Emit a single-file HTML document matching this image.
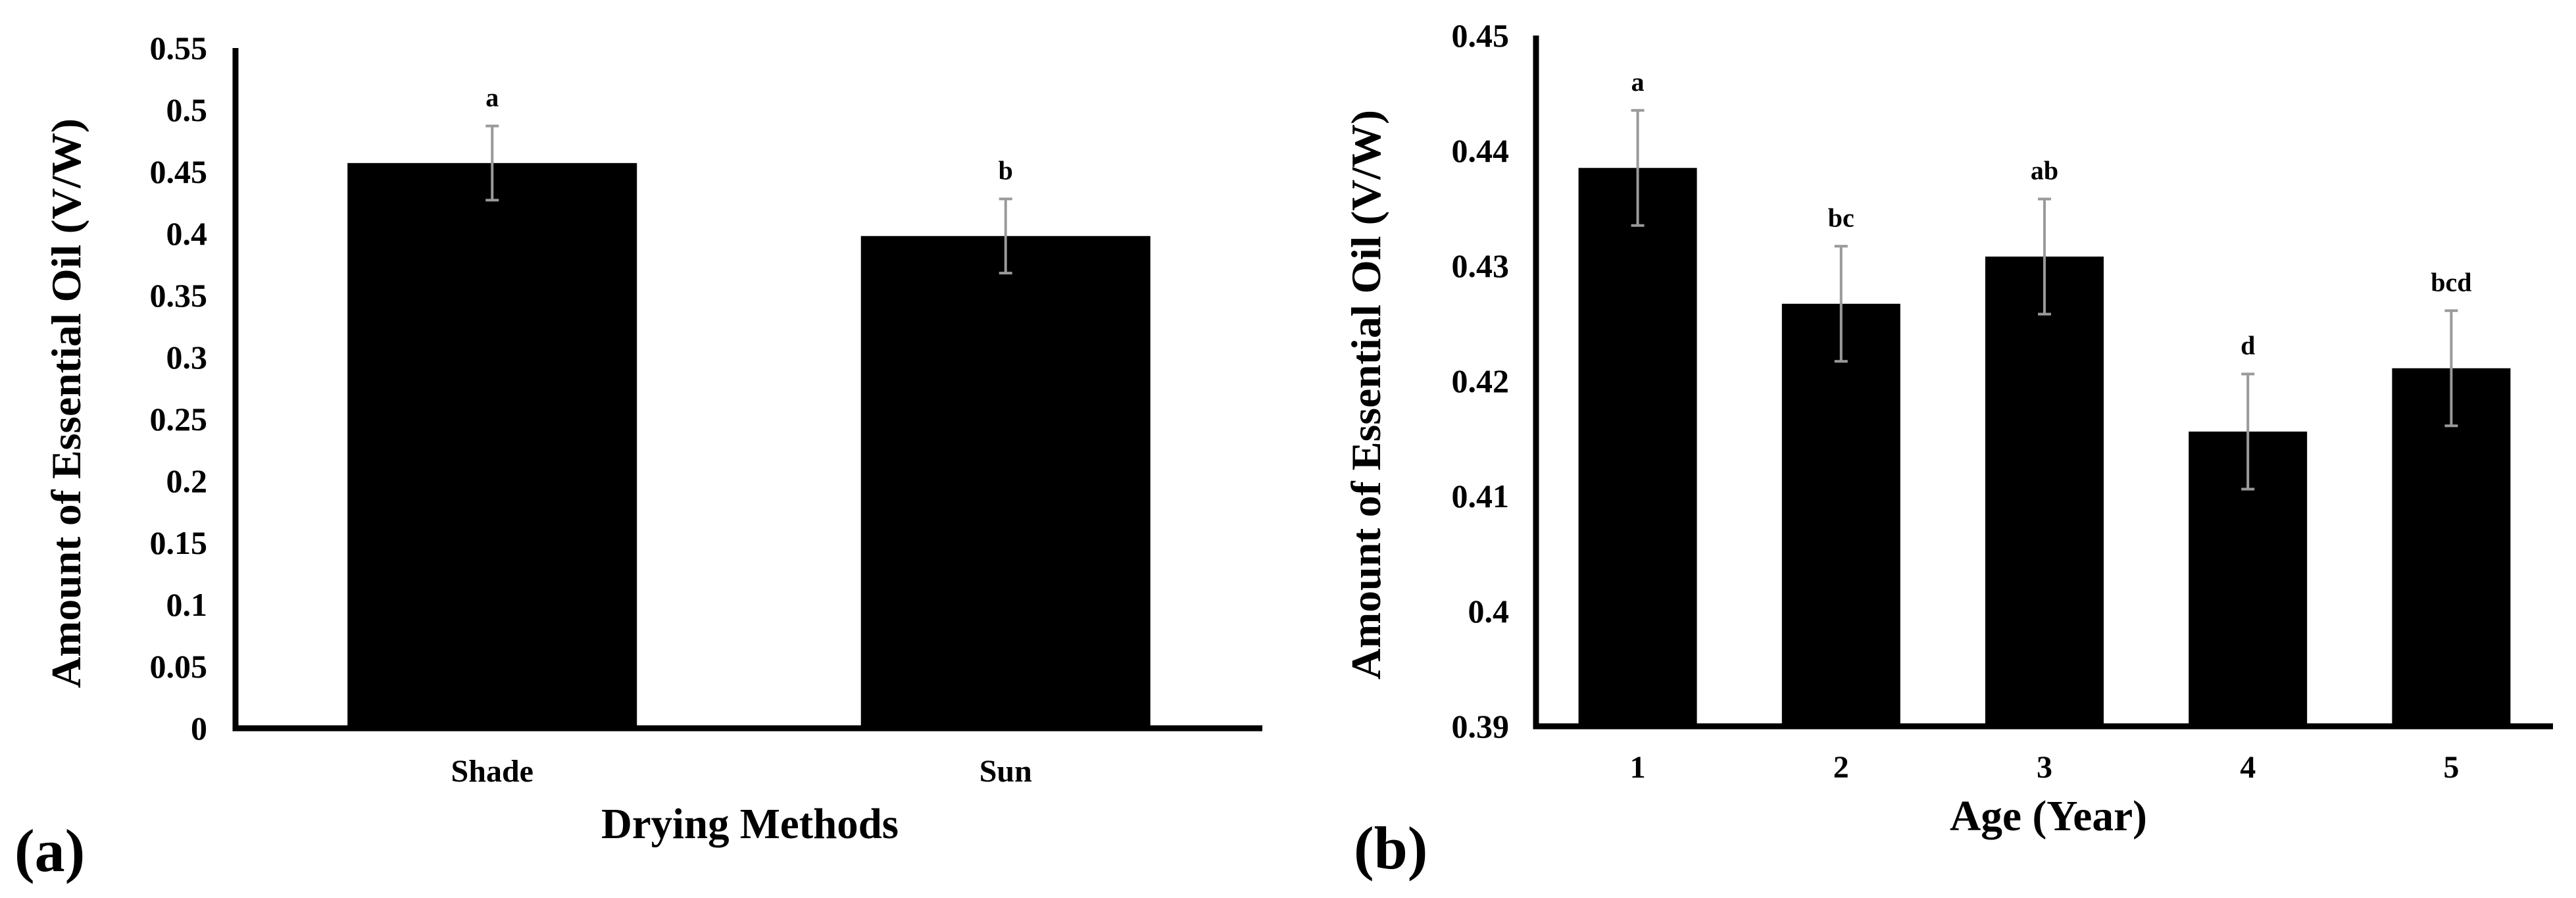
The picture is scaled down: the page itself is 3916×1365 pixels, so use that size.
<!DOCTYPE html>
<html><head><meta charset="utf-8"><style>
html,body{margin:0;padding:0;background:#fff;}
svg{display:block;font-family:"Liberation Serif",serif;font-weight:bold;}
</style></head><body>
<svg id="fig" width="3916" height="1365" viewBox="0 0 3916 1365" xmlns="http://www.w3.org/2000/svg">
<g id="chartA"></g>
<g id="chartB"></g>
<text x="22" y="1324" font-size="92">(a)</text>
<text x="2058" y="1320" font-size="92">(b)</text>
<text x="1140" y="1274" font-size="66" text-anchor="middle" textLength="452" lengthAdjust="spacingAndGlyphs">Drying Methods</text>
<text x="3114" y="1262" font-size="66" text-anchor="middle" textLength="300" lengthAdjust="spacingAndGlyphs">Age (Year)</text>
<text transform="translate(122,613) rotate(-90)" font-size="64" text-anchor="middle" textLength="866" lengthAdjust="spacingAndGlyphs">Amount of Essential Oil (V/W)</text>
<text transform="translate(2098,600) rotate(-90)" font-size="64" text-anchor="middle" textLength="866" lengthAdjust="spacingAndGlyphs">Amount of Essential Oil (V/W)</text>
</svg>
<script>
const NS="http://www.w3.org/2000/svg";
// Chart A data
const catsA=["Shade","Sun"];
const valsA=[0.457,0.398];
const errA=[0.03,0.03];
const lettersA=["a","b"];
const ticksA=["0","0.05","0.1","0.15","0.2","0.25","0.3","0.35","0.4","0.45","0.5","0.55"];
// Chart B data
const catsB=["1","2","3","4","5"];
const valsB=[0.4385,0.4267,0.4308,0.4156,0.4211];
const errB=[0.005,0.005,0.005,0.005,0.005];
const lettersB=["a","bc","ab","d","bcd"];
const ticksB=["0.39","0.4","0.41","0.42","0.43","0.44","0.45"];

function mk(parent,tag,attrs){const e=document.createElementNS(NS,tag);for(const k in attrs)e.setAttribute(k,attrs[k]);parent.appendChild(e);return e;}

function draw(g,cfg,cats,vals,errs,letters,ticks){
  const ymin=parseFloat(ticks[0]),ymax=parseFloat(ticks[ticks.length-1]);
  const y=v=>cfg.y0-(v-ymin)/(ymax-ymin)*(cfg.y0-cfg.y1);
  const band=(cfg.x1-cfg.x0)/cats.length;
  const xc=i=>cfg.x0+band*(i+0.5);
  ticks.forEach((t,i)=>{
    const tx=mk(g,"text",{x:cfg.tickRight,y:y(parseFloat(t))+17,"font-size":50,"text-anchor":"end"});
    
    
    tx.textContent=t;
  });
  cats.forEach((c,i)=>{
    const cx=xc(i),w=cfg.barW;
    const r=mk(g,"rect",{x:cx-w/2,y:y(vals[i]),width:w,height:cfg.y0-y(vals[i]),fill:"#000"});
    
    
    const top=y(vals[i]+errs[i]),bot=y(vals[i]-errs[i]);
    const eb=mk(g,"path",{d:`M${cx},${top}V${bot}M${cx-10},${top}H${cx+10}M${cx-10},${bot}H${cx+10}`,stroke:"#9a9a9a","stroke-width":4,fill:"none"});
    
    
    const lt=mk(g,"text",{x:cx,y:top-30,"font-size":40,"text-anchor":"middle"});
    
    
    lt.textContent=letters[i];
    const xl=mk(g,"text",{x:cx,y:cfg.xLabY,"font-size":48,"text-anchor":"middle"});
    
    
    xl.textContent=c;
  });
  const ax=mk(g,"path",{d:`M${cfg.x0},${cfg.y1}V${cfg.y0}H${cfg.x1}`,stroke:"#000","stroke-width":9,fill:"none"});
  
  
}
draw(document.getElementById("chartA"),{x0:358,x1:1919,y0:1107,y1:73,barW:440,tickRight:315,xLabY:1188},catsA,valsA,errA,lettersA,ticksA);
draw(document.getElementById("chartB"),{x0:2335,x1:3881,y0:1104,y1:54,barW:180,tickRight:2294,xLabY:1182},catsB,valsB,errB,lettersB,ticksB);
</script>
</body></html>
